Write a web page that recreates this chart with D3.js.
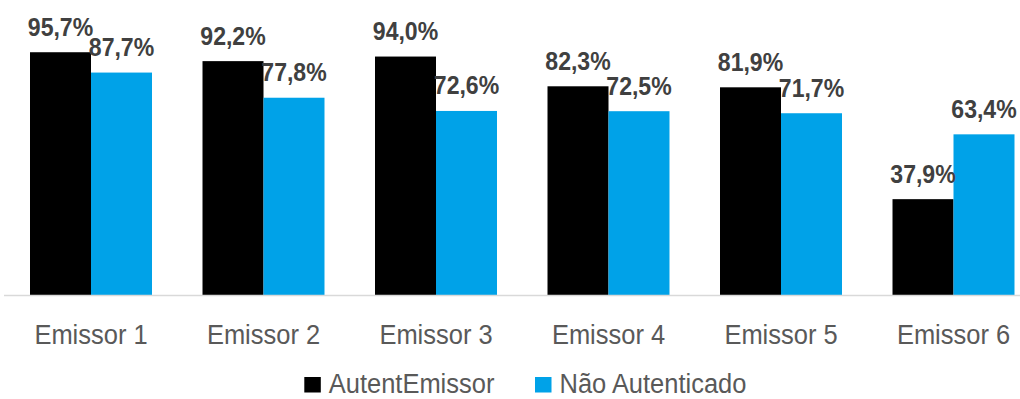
<!DOCTYPE html>
<html>
<head>
<meta charset="utf-8">
<script src="https://cdn.jsdelivr.net/npm/d3@7"></script>
<style>
  html, body { margin: 0; padding: 0; background: #fff; }
  svg { display: block; }
  text { font-family: "Liberation Sans", Arial, sans-serif; }
</style>
</head>
<body>
<svg id="chart" width="1020" height="399"></svg>
<script>
const categories = ["Emissor 1", "Emissor 2", "Emissor 3", "Emissor 4", "Emissor 5", "Emissor 6"];
const seriesNames = ["AutentEmissor", "Não Autenticado"];
const autentEmissor = [95.7, 92.2, 94.0, 82.3, 81.9, 37.9];
const naoAutenticado = [87.7, 77.8, 72.6, 72.5, 71.7, 63.4];
const colors = ["#000000", "#00a2e8"];

const seriesValues = [autentEmissor, naoAutenticado];
const W = 1020, H = 399;
const svg = d3.select("#chart");

const x = d3.scaleBand().domain(categories).range([4.75, 1039.75])
  .paddingInner(0.2928).paddingOuter(0.1464);
const xs = d3.scaleBand().domain(seriesNames).range([0, x.bandwidth()]).padding(0);
const y = d3.scaleLinear().domain([0, 100]).range([295.5, 41.3]);

const fmt = v => v.toFixed(1).replace(".", ",") + "%";

// bars
const groups = svg.append("g").selectAll("g").data(categories).join("g")
  .attr("transform", d => `translate(${x(d)},0)`);

seriesNames.forEach((s, si) => {
  groups.append("rect")
    .attr("x", xs(s))
    .attr("width", xs.bandwidth())
    .attr("y", (d, i) => y(seriesValues[si][i]))
    .attr("height", (d, i) => y(0) - y(seriesValues[si][i]))
    .attr("fill", colors[si]);
});

// axis line
svg.append("line").attr("x1", 4).attr("x2", W).attr("y1", y(0)).attr("y2", y(0))
  .attr("stroke", "#d9d9d9").attr("stroke-width", 1.5);

// data labels
seriesNames.forEach((s, si) => {
  groups.append("text")
    .attr("transform", (d, i) => {
      const cx = xs(s) + xs.bandwidth() / 2;
      const cy = y(seriesValues[si][i]) - 16.5;
      return `translate(${cx},${cy}) scale(0.87,1)`;
    })
    .attr("text-anchor", "middle")
    .attr("font-size", 26.5)
    .attr("font-weight", "bold")
    .attr("fill", "#404040")
    .text((d, i) => fmt(seriesValues[si][i]));
});

// x axis labels
svg.append("g").selectAll("text").data(categories).join("text")
  .attr("transform", d => `translate(${x(d) + x.bandwidth() / 2},344) scale(0.91,1)`)
  .attr("text-anchor", "middle")
  .attr("font-size", 28)
  .attr("fill", "#595959")
  .text(d => d);

// legend
const legendX = [304.3, 535];
const legend = svg.append("g").selectAll("g").data(seriesNames).join("g")
  .attr("transform", (d, i) => `translate(${legendX[i]},0)`);
legend.append("rect").attr("x", 0).attr("y", 377).attr("width", 16.5).attr("height", 15.5)
  .attr("fill", (d, i) => colors[i]);
legend.append("text")
  .attr("transform", "translate(24.5,393) scale(0.91,1)")
  .attr("font-size", 28)
  .attr("fill", "#595959")
  .text(d => d);
</script>
</body>
</html>
